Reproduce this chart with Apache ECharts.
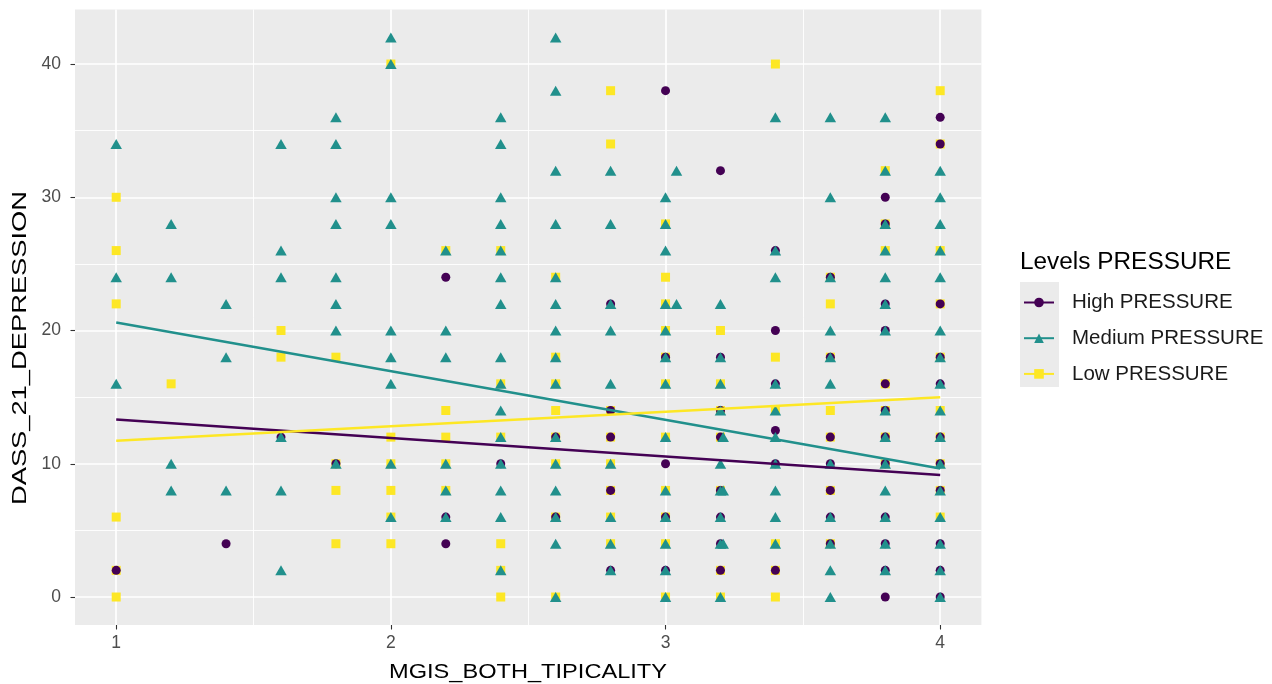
<!DOCTYPE html>
<html>
<head>
<meta charset="utf-8">
<script src="https://cdn.jsdelivr.net/npm/echarts@6/dist/echarts.min.js"></script>
<style>html,body{margin:0;padding:0;background:#fff}#c{width:1272px;height:684px}</style>
</head>
<body>
<div id="c"></div>
<script>
// ---- data ----
const seriesNames = ['High PRESSURE', 'Medium PRESSURE', 'Low PRESSURE'];
const xTicks = [1, 2, 3, 4];
const yTicks = [0, 10, 20, 30, 40];
const xMinorGrid = [1.5, 2.5, 3.5];
const yMinorGrid = [5, 15, 25, 35];

const highPts = [
  [1,2],[1.4,4],[1.6,12],[1.8,10],
  [2.2,24],[2.2,6],[2.2,4],[2.4,10],[2.6,12],[2.6,6],
  [2.8,22],[2.8,14],[2.8,12],[2.8,8],[2.8,2],
  [3,38],[3,18],[3,10],[3,6],[3,2],
  [3.2,32],[3.2,18],[3.2,14],[3.2,12],[3.2,8],[3.2,6],[3.2,4],[3.2,2],
  [3.4,26],[3.4,20],[3.4,16],[3.4,12.5],[3.4,10],[3.4,2],
  [3.6,24],[3.6,18],[3.6,12],[3.6,10],[3.6,8],[3.6,6],[3.6,4],
  [3.8,30],[3.8,28],[3.8,22],[3.8,20],[3.8,16],[3.8,14],[3.8,12],[3.8,10],[3.8,6],[3.8,4],[3.8,2],[3.8,0],
  [4,36],[4,34],[4,22],[4,18],[4,16],[4,12],[4,10],[4,8],[4,4],[4,2],[4,0]
];
const mediumPts = [
  [1,34],[1,24],[1,16],
  [1.2,28],[1.2,24],[1.2,10],[1.2,8],
  [1.4,22],[1.4,18],[1.4,8],
  [1.6,34],[1.6,26],[1.6,24],[1.6,12],[1.6,8],[1.6,2],
  [1.8,36],[1.8,34],[1.8,30],[1.8,28],[1.8,24],[1.8,22],[1.8,20],[1.8,10],
  [2,42],[2,40],[2,30],[2,28],[2,20],[2,18],[2,16],[2,10],[2,6],
  [2.2,26],[2.2,20],[2.2,18],[2.2,10],[2.2,8],[2.2,6],
  [2.4,36],[2.4,34],[2.4,30],[2.4,28],[2.4,26],[2.4,24],[2.4,22],[2.4,18],[2.4,16],[2.4,14],[2.4,12],[2.4,10],[2.4,8],[2.4,6],[2.4,2],
  [2.6,42],[2.6,38],[2.6,32],[2.6,28],[2.6,24],[2.6,22],[2.6,20],[2.6,18],[2.6,16],[2.6,12],[2.6,10],[2.6,8],[2.6,6],[2.6,4],[2.6,0],
  [2.8,32],[2.8,28],[2.8,22],[2.8,20],[2.8,16],[2.8,10],[2.8,6],[2.8,4],[2.8,2],
  [3,30],[3,28],[3,26],[3,22],[3,20],[3,18],[3,16],[3,12],[3,8],[3,6],[3,4],[3,2],[3,0],
  [3.04,32],[3.04,22],
  [3.2,22],[3.2,18],[3.2,16],[3.2,14],[3.2,10],[3.2,8],[3.2,6],[3.2,4],[3.2,0],
  [3.21,12],[3.21,8],[3.21,4],
  [3.4,36],[3.4,26],[3.4,24],[3.4,16],[3.4,14],[3.4,12],[3.4,10],[3.4,8],[3.4,6],[3.4,4],
  [3.6,36],[3.6,30],[3.6,24],[3.6,20],[3.6,18],[3.6,16],[3.6,10],[3.6,6],[3.6,4],[3.6,2],[3.6,0],
  [3.8,36],[3.8,32],[3.8,28],[3.8,26],[3.8,24],[3.8,22],[3.8,20],[3.8,14],[3.8,12],[3.8,10],[3.8,8],[3.8,6],[3.8,4],[3.8,2],
  [4,32],[4,30],[4,28],[4,26],[4,24],[4,20],[4,18],[4,16],[4,14],[4,12],[4,10],[4,8],[4,6],[4,4],[4,2],[4,0]
];
const lowPts = [
  [1,30],[1,26],[1,22],[1,6],[1,2],[1,0],
  [1.2,16],
  [1.6,20],[1.6,18],
  [1.8,18],[1.8,10],[1.8,8],[1.8,4],
  [2,40],[2,12],[2,10],[2,8],[2,6],[2,4],
  [2.2,26],[2.2,14],[2.2,12],[2.2,10],[2.2,8],
  [2.4,26],[2.4,16],[2.4,12],[2.4,4],[2.4,2],[2.4,0],
  [2.6,24],[2.6,18],[2.6,16],[2.6,14],[2.6,12],[2.6,10],[2.6,6],[2.6,0],
  [2.8,38],[2.8,34],[2.8,14],[2.8,12],[2.8,10],[2.8,8],[2.8,6],[2.8,4],
  [3,28],[3,24],[3,22],[3,20],[3,18],[3,16],[3,12],[3,8],[3,6],[3,4],[3,0],
  [3.2,20],[3.2,16],[3.2,14],[3.2,12],[3.2,8],[3.2,2],[3.2,0],
  [3.4,40],[3.4,18],[3.4,14],[3.4,4],[3.4,2],[3.4,0],
  [3.6,24],[3.6,22],[3.6,18],[3.6,14],[3.6,12],[3.6,8],[3.6,4],
  [3.8,32],[3.8,28],[3.8,26],[3.8,16],[3.8,14],[3.8,12],[3.8,10],
  [4,38],[4,34],[4,26],[4,22],[4,18],[4,14],[4,12],[4,10],[4,8],[4,6]
];
// fitted linear trend lines (endpoints at x = 1 and x = 4)
const highFit = [[1,13.33],[4,9.15]];
const mediumFit = [[1,20.6],[4,9.65]];
const lowFit = [[1,11.73],[4,15.0]];

// ---- styling ----
const colors = {high:'#440154', medium:'#21908C', low:'#FDE725'};
const FONT = '"Liberation Sans", Arial, Helvetica, sans-serif';

const chart = echarts.init(document.getElementById('c'), null, {renderer:'canvas'});

function gridLines(vals, axis, width){
  return vals.map(v => ({[axis]: v, lineStyle:{color:'#FFFFFF', width:width, type:'solid'}}));
}

const option = {
  animation: false,
  backgroundColor: '#FFFFFF',
  textStyle: {fontFamily: FONT},
  grid: {left:75, top:9.4, width:906.4, height:615.6, show:true, backgroundColor:'#EBEBEB', borderWidth:0, containLabel:false},
  xAxis: {
    type:'value', min:0.85, max:4.15,
    axisLine:{show:false, onZero:false},
    axisTick:{show:true, customValues:xTicks, length:4.5, lineStyle:{color:'#333333', width:1.1}},
    axisLabel:{show:true, customValues:xTicks, fontSize:17.5, color:'#4D4D4D', margin:9, fontFamily:FONT},
    splitLine:{show:false}
  },
  yAxis: {
    type:'value', min:-2.1, max:44.1,
    axisLine:{show:false, onZero:false},
    axisTick:{show:true, customValues:yTicks, length:4.5, lineStyle:{color:'#333333', width:1.1}},
    axisLabel:{show:true, customValues:yTicks, fontSize:17.5, color:'#4D4D4D', margin:14, fontFamily:FONT},
    splitLine:{show:false}
  },
  legend: {
    orient:'vertical', left:1023, top:292, padding:0,
    data: seriesNames,
    itemWidth:30, itemHeight:12, itemGap:14.7,
    textStyle:{fontSize:20.5, color:'#1A1A1A', fontFamily:FONT, lineHeight:20, padding:[0,0,0,13]},
    selectedMode:false
  },
  graphic: [
    {type:'rect', left:1020, top:282, shape:{width:39, height:105}, style:{fill:'#EBEBEB'}, z:-1, silent:true},
    {type:'text', x:1020, y:263, scaleX:1.06, style:{text:'Levels PRESSURE', font:'23px ' + FONT, fill:'#000000', textAlign:'left', textVerticalAlign:'middle'}, silent:true},
    {type:'text', x:528, y:672, scaleX:1.18, style:{text:'MGIS_BOTH_TIPICALITY', font:'20px ' + FONT, fill:'#000000', textAlign:'center', textVerticalAlign:'middle'}, silent:true},
    {type:'text', x:20, y:348, rotation:Math.PI/2, scaleX:1.3, style:{text:'DASS_21_DEPRESSION', font:'21px ' + FONT, fill:'#000000', textAlign:'center', textVerticalAlign:'middle'}, silent:true}
  ],
  series: [
    {
      name:'gridlines', type:'scatter', data:[], z:0, silent:true,
      markLine:{
        silent:true, z:0, symbol:['none','none'], label:{show:false}, animation:false,
        data: [].concat(
          gridLines(yMinorGrid,'yAxis',0.9),
          gridLines(xMinorGrid,'xAxis',0.9),
          gridLines(yTicks,'yAxis',1.7),
          gridLines(xTicks,'xAxis',1.7)
        )
      }
    },
    {name:seriesNames[0], type:'line', data:highFit, z:5, showSymbol:false, symbol:'circle', color:colors.high, lineStyle:{color:colors.high, width:2.5}, itemStyle:{color:colors.high}},
    {name:seriesNames[1], type:'line', data:mediumFit, z:5, showSymbol:false, symbol:'triangle', color:colors.medium, lineStyle:{color:colors.medium, width:2.5}, itemStyle:{color:colors.medium}},
    {name:seriesNames[2], type:'line', data:lowFit, z:5, showSymbol:false, symbol:'rect', color:colors.low, lineStyle:{color:colors.low, width:2.5}, itemStyle:{color:colors.low}},
    {name:seriesNames[2], type:'scatter', data:lowPts, z:2, symbol:'rect', symbolSize:[9,9], itemStyle:{color:colors.low, opacity:1}},
    {name:seriesNames[0], type:'scatter', data:highPts, z:3, symbol:'circle', symbolSize:9, itemStyle:{color:colors.high, opacity:1}},
    {name:seriesNames[1], type:'scatter', data:mediumPts, z:4, symbol:'triangle', symbolSize:[11.5,10], itemStyle:{color:colors.medium, opacity:1}}
  ]
};
chart.setOption(option);
</script>
</body>
</html>
